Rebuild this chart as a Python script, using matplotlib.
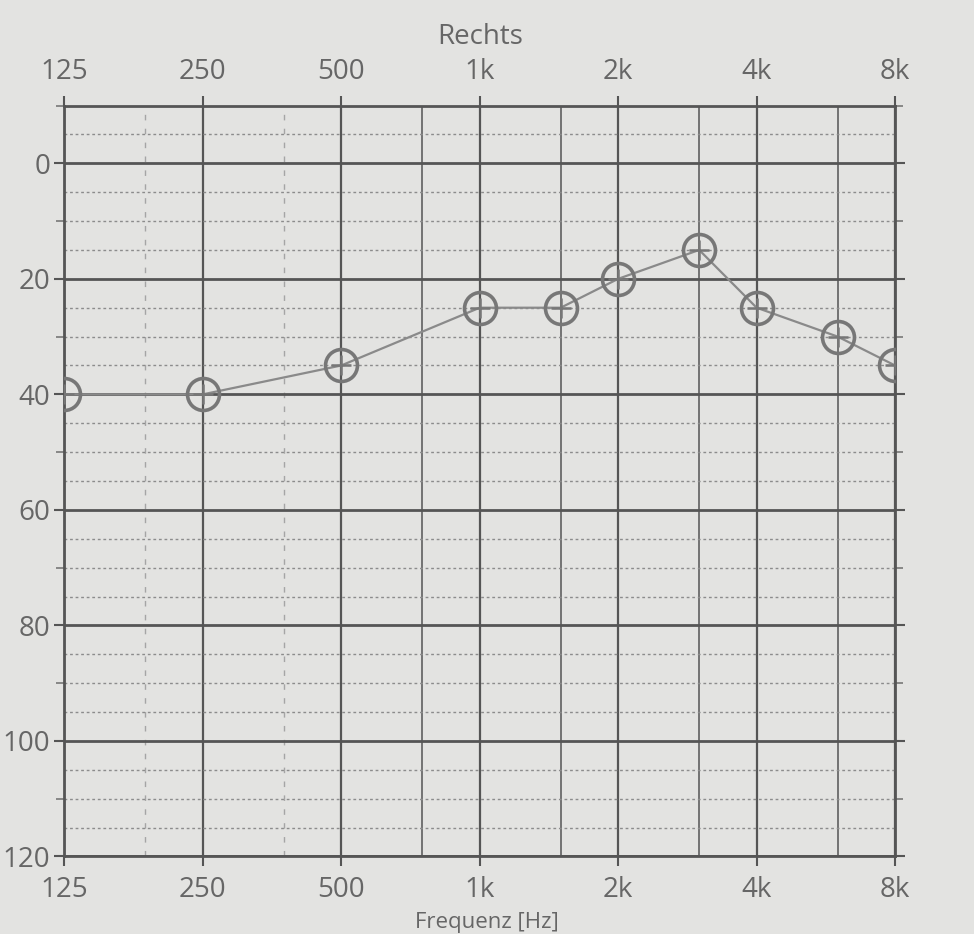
import numpy as np
import matplotlib
matplotlib.use("Agg")
import matplotlib.pyplot as plt

# Audiogram data (right ear)
freqs = [125, 250, 500, 1000, 1500, 2000, 3000, 4000, 6000, 8000]
levels = [40, 40, 35, 25, 25, 20, 15, 25, 30, 35]

# Axis layout
octave_freqs = [125, 250, 500, 1000, 2000, 4000, 8000]
octave_labels = ["125", "250", "500", "1k", "2k", "4k", "8k"]
half_solid = [750, 1500, 3000, 6000]
half_dashed = [187.5, 375]
db_major = [0, 20, 40, 60, 80, 100, 120]
db_minor = [-5, 5, 10, 15, 25, 30, 35, 45, 50, 55, 65, 70, 75, 85, 90, 95, 105, 110, 115]

paper = "#e3e3e1"
ink = "#666666"
plt.rcParams["font.family"] = ["Open Sans", "DejaVu Sans"]

fig = plt.figure(figsize=(9.74, 9.34), dpi=100, facecolor=paper)
ax = fig.add_axes([0.066, 0.083, 0.853, 0.804], facecolor=paper)

ax.set_xscale("log", base=2)
ax.set_xlim(125, 8000)
ax.set_ylim(120, -10)

# grid lines
for f in octave_freqs:
    ax.axvline(f, color="#555555", lw=1.6, zorder=1)
for f in half_solid:
    ax.axvline(f, color="#6a6a6a", lw=1.3, zorder=1)
for f in half_dashed:
    ax.axvline(f, color="#a5a5a5", lw=1.0, ls=(0, (4, 6)), zorder=1)
for d in db_major:
    ax.axhline(d, color="#555555", lw=2.0, zorder=1)
for d in db_minor:
    ax.axhline(d, color="#8c8c8c", lw=1.0, ls=(0, (2, 2)), zorder=1)

for s in ax.spines.values():
    s.set_color("#555555")
    s.set_linewidth(2.0)

# data line and markers (circle with cross)
ax.plot(freqs, levels, color="#8a8a8a", lw=1.6, zorder=3)
ax.plot(freqs, levels, ls="none", marker="o", ms=23, mfc="none",
        mec="#777777", mew=2.6, zorder=4)
ax.plot(freqs, levels, ls="none", marker="+", ms=15, mec="#777777",
        mew=1.8, zorder=4)

ax.set_xticks(octave_freqs)
ax.set_xticklabels(octave_labels)
ax.xaxis.set_minor_locator(matplotlib.ticker.NullLocator())
ax.set_yticks(db_major)
ax.set_yticks(list(range(-10, 121, 10)), minor=True)
ax.tick_params(axis="x", which="both", top=True, labeltop=True, bottom=True,
               labelbottom=True, direction="out", length=7, width=1.5,
               color="#555555", labelsize=20, labelcolor=ink, pad=7)
ax.tick_params(axis="y", which="major", left=True, right=True, direction="out",
               length=7, width=1.5, color="#555555", labelsize=20,
               labelcolor=ink, pad=3)
ax.tick_params(axis="y", which="minor", left=True, right=True, direction="out",
               length=6, width=1.2, color="#777777")

ax.set_title("Rechts", fontsize=20, color=ink, pad=44)
fig.text(0.5, 0.001, "Frequenz [Hz]", fontsize=16, color=ink,
         ha="center", va="bottom")

fig.savefig("out.png", dpi=100, facecolor=paper)
